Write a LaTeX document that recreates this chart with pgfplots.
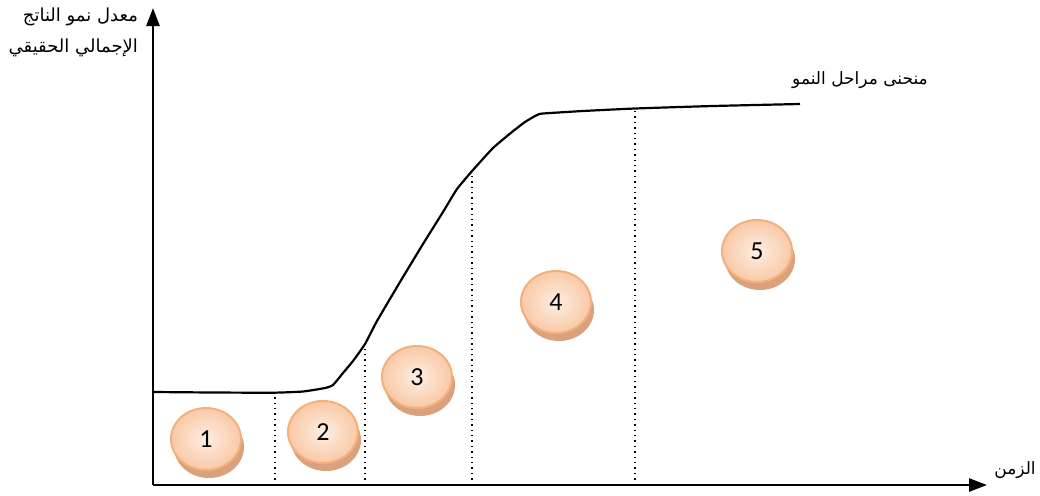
\documentclass[border=0pt]{standalone}
\usepackage{fontspec}
\usepackage{pgfplots}
\pgfplotsset{compat=1.18}
\usetikzlibrary{arrows.meta,shapes.geometric,shadows}
\newfontfamily\arabicfont[Script=Arabic]{DejaVu Sans}
\newfontfamily\numfont{Carlito}
\TeXXeTstate=1
\definecolor{discin}{HTML}{FDEEE4}
\definecolor{discout}{HTML}{F9C9A6}
\definecolor{discedge}{HTML}{F4B07C}
\definecolor{discshadow}{HTML}{D9A27D}
\begin{document}
\begin{tikzpicture}
\begin{axis}[
  scale only axis, width=417pt, height=238.5pt,
  xmin=0, xmax=834, ymin=0, ymax=477,
  axis lines=left,
  axis line style={line width=1.3pt, -{Triangle[length=9pt,width=6.5pt]}},
  xtick=\empty, ytick=\empty,
  clip=false,
]
\addplot[line width=1.1pt, smooth, tension=0.3, black] coordinates {
(0,93)(60,92.5)(120,92.3)(150,93.5)(172,97)(180,100)(190,112)(200,124)(212,141)(224,164)(247,203)(270,241)(290,273)(304,296)(320,315)(340,337)(359,353)(372,363)(384,370)(390,371.5)(430,374)(482,376.5)(560,379)(647,381)};
\addplot[dotted, line width=0.7pt] coordinates {(122,0)(122,92)};
\addplot[dotted, line width=0.7pt] coordinates {(212,0)(212,141)};
\addplot[dotted, line width=0.7pt] coordinates {(319,0)(319,315)};
\addplot[dotted, line width=0.7pt] coordinates {(482,0)(482,377)};
\addplot[only marks, mark=none, nodes near coords, point meta=explicit symbolic,
  every node near coord/.append style={ellipse, minimum width=35pt, minimum height=31pt,
    inner sep=0pt, draw=discedge, line width=1pt, inner color=discin, outer color=discout,
    drop shadow={shadow xshift=1.5pt, shadow yshift=-4pt, fill=discshadow, opacity=1, draw=none},
    font=\numfont\fontsize{13}{15}\selectfont, text=black, anchor=center}]
  table[meta=label] {
x y label
53 46 1
170 53 2
264 108 3
403 183 4
604 234 5
};
\node[anchor=east, font=\arabicfont\fontsize{9}{11}\selectfont] at (axis cs:-8,468) {\beginR معدل نمو الناتج\endR};
\node[anchor=east, font=\arabicfont\fontsize{9}{11}\selectfont] at (axis cs:-8,437) {\beginR الإجمالي الحقيقي\endR};
\node[font=\arabicfont\fontsize{8.5}{10}\selectfont] at (axis cs:707,405) {\beginR منحنى مراحل النمو\endR};
\node[font=\arabicfont\fontsize{8.5}{10}\selectfont] at (axis cs:862,15) {\beginR الزمن\endR};
\coordinate (bl) at (axis cs:-153,-10);
\coordinate (tr) at (axis cs:887,485);
\end{axis}
\pgfresetboundingbox
\path (bl) rectangle (tr);
\end{tikzpicture}
\end{document}
